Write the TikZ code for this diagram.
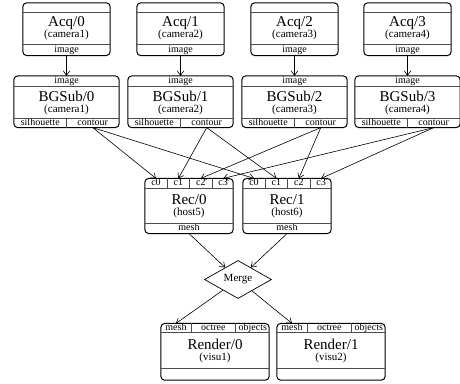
\documentclass[tikz,border=0pt]{standalone}
\usepackage{fontspec}
\setmainfont{Liberation Serif}
\usepackage{tikz}
\usetikzlibrary{calc,shapes.geometric,arrows.meta,backgrounds}
\newcommand{\compname}[1]{{\fontsize{15}{15}\selectfont #1}}
\tikzstyle{pipe}=[
  x=1pt, y=1pt, >={Straight Barb[length=4.5pt,width=6.5pt]}
]
\tikzstyle{core}=[
  inner sep=0pt, align=center, font=\fontsize{11}{11}\selectfont
]
\tikzstyle{slot}=[
  inner sep=0pt, text height=6.5pt, text depth=2pt, font=\fontsize{10}{10}\selectfont
]
\tikzstyle{frame}=[
  line width=1pt, rounded corners=4pt
]
\tikzstyle{divider}=[
  line width=0.9pt, black!70
]
\tikzstyle{conn}=[
  ->, line width=0.6pt
]
\tikzstyle{mergenode}=[
  draw, diamond, line width=0.7pt, inner sep=0pt, minimum width=67pt, minimum height=27pt,
  font=\fontsize{11}{11}\selectfont
]
\begin{document}
\begin{tikzpicture}[pipe]
\useasboundingbox (0,0) rectangle (460,-383);

% acquisition
\node (acq0) [core, minimum width=87pt, minimum height=31pt] at (66.5,-28.5) {\compname{Acq/0}\\(camera1)};
\node (acq1) [core, minimum width=87pt, minimum height=31pt] at ($(acq0) + (114,0)$) {\compname{Acq/1}\\(camera2)};
\node (acq2) [core, minimum width=87pt, minimum height=31pt] at ($(acq1) + (114,0)$) {\compname{Acq/2}\\(camera3)};
\node (acq3) [core, minimum width=87pt, minimum height=31pt] at ($(acq2) + (113,0)$) {\compname{Acq/3}\\(camera4)};
\node (acq0 image) [slot, minimum width=87pt, minimum height=11pt, anchor=north] at (acq0.south) {image};
\node (acq1 image) [slot, minimum width=87pt, minimum height=11pt, anchor=north] at (acq1.south) {image};
\node (acq2 image) [slot, minimum width=87pt, minimum height=11pt, anchor=north] at (acq2.south) {image};
\node (acq3 image) [slot, minimum width=87pt, minimum height=11pt, anchor=north] at (acq3.south) {image};

% background subtraction
\node (bg0) [core, minimum width=105pt, minimum height=32pt] at (66.5,-102.5) {\compname{BGSub/0}\\(camera1)};
\node (bg1) [core, minimum width=105pt, minimum height=32pt] at ($(bg0) + (114,0)$) {\compname{BGSub/1}\\(camera2)};
\node (bg2) [core, minimum width=105pt, minimum height=32pt] at ($(bg1) + (114,0)$) {\compname{BGSub/2}\\(camera3)};
\node (bg3) [core, minimum width=105pt, minimum height=32pt] at ($(bg2) + (113,0)$) {\compname{BGSub/3}\\(camera4)};
\node (bg0 image) [slot, minimum width=105pt, minimum height=10pt, anchor=south] at (bg0.north) {image};
\node (bg1 image) [slot, minimum width=105pt, minimum height=10pt, anchor=south] at (bg1.north) {image};
\node (bg2 image) [slot, minimum width=105pt, minimum height=10pt, anchor=south] at (bg2.north) {image};
\node (bg3 image) [slot, minimum width=105pt, minimum height=10pt, anchor=south] at (bg3.north) {image};
\node (bg0 sil) [slot, minimum width=52.5pt, minimum height=8.5pt, anchor=north west] at (bg0.south west) {silhouette};
\node (bg0 cont) [slot, minimum width=52.5pt, minimum height=8.5pt, anchor=north east] at (bg0.south east) {contour};
\node (bg1 sil) [slot, minimum width=52.5pt, minimum height=8.5pt, anchor=north west] at (bg1.south west) {silhouette};
\node (bg1 cont) [slot, minimum width=52.5pt, minimum height=8.5pt, anchor=north east] at (bg1.south east) {contour};
\node (bg2 sil) [slot, minimum width=52.5pt, minimum height=8.5pt, anchor=north west] at (bg2.south west) {silhouette};
\node (bg2 cont) [slot, minimum width=52.5pt, minimum height=8.5pt, anchor=north east] at (bg2.south east) {contour};
\node (bg3 sil) [slot, minimum width=52.5pt, minimum height=8.5pt, anchor=north west] at (bg3.south west) {silhouette};
\node (bg3 cont) [slot, minimum width=52.5pt, minimum height=8.5pt, anchor=north east] at (bg3.south east) {contour};

% reconstruction
\node (rec0) [core, minimum width=88pt, minimum height=34pt] at (189,-206) {\compname{Rec/0}\\(host5)};
\node (rec1) [core, minimum width=88pt, minimum height=34pt] at ($(rec0) + (98,0)$) {\compname{Rec/1}\\(host6)};
\node (rec0 c0) [slot, minimum width=22pt, minimum height=10pt, anchor=south west] at (rec0.north west) {c0};
\node (rec0 c1) [slot, minimum width=22pt, minimum height=10pt, anchor=west] at (rec0 c0.east) {c1};
\node (rec0 c2) [slot, minimum width=22pt, minimum height=10pt, anchor=west] at (rec0 c1.east) {c2};
\node (rec0 c3) [slot, minimum width=22pt, minimum height=10pt, anchor=west] at (rec0 c2.east) {c3};
\node (rec1 c0) [slot, minimum width=22pt, minimum height=10pt, anchor=south west] at (rec1.north west) {c0};
\node (rec1 c1) [slot, minimum width=22pt, minimum height=10pt, anchor=west] at (rec1 c0.east) {c1};
\node (rec1 c2) [slot, minimum width=22pt, minimum height=10pt, anchor=west] at (rec1 c1.east) {c2};
\node (rec1 c3) [slot, minimum width=22pt, minimum height=10pt, anchor=west] at (rec1 c2.east) {c3};
\node (rec0 mesh) [slot, minimum width=88pt, minimum height=10pt, anchor=north] at (rec0.south) {mesh};
\node (rec1 mesh) [slot, minimum width=88pt, minimum height=10pt, anchor=north] at (rec1.south) {mesh};

\node (merge) [mergenode] at (238,-279.5) {Merge};

% rendering
\node (ren0) [core, minimum width=108pt, minimum height=35pt] at (215,-350.5) {\compname{Render/0}\\(visu1)};
\node (ren1) [core, minimum width=108pt, minimum height=35pt] at ($(ren0) + (116,0)$) {\compname{Render/1}\\(visu2)};
\node (ren0 mesh) [slot, minimum width=30pt, minimum height=9pt, anchor=south west] at (ren0.north west) {mesh};
\node (ren0 octree) [slot, minimum width=44pt, minimum height=9pt, anchor=west] at (ren0 mesh.east) {octree};
\node (ren0 objects) [slot, minimum width=34pt, minimum height=9pt, anchor=west] at (ren0 octree.east) {objects};
\node (ren1 mesh) [slot, minimum width=30pt, minimum height=9pt, anchor=south west] at (ren1.north west) {mesh};
\node (ren1 octree) [slot, minimum width=44pt, minimum height=9pt, anchor=west] at (ren1 mesh.east) {octree};
\node (ren1 objects) [slot, minimum width=34pt, minimum height=9pt, anchor=west] at (ren1 octree.east) {objects};

% frames and slot dividers
\draw [frame] ($(acq0.north west) + (0,10)$) rectangle (acq0 image.south east);
\draw [frame] ($(acq1.north west) + (0,10)$) rectangle (acq1 image.south east);
\draw [frame] ($(acq2.north west) + (0,10)$) rectangle (acq2 image.south east);
\draw [frame] ($(acq3.north west) + (0,10)$) rectangle (acq3 image.south east);
\draw [divider] (acq0.north west) -- (acq0.north east) (acq0.south west) -- (acq0.south east);
\draw [divider] (acq1.north west) -- (acq1.north east) (acq1.south west) -- (acq1.south east);
\draw [divider] (acq2.north west) -- (acq2.north east) (acq2.south west) -- (acq2.south east);
\draw [divider] (acq3.north west) -- (acq3.north east) (acq3.south west) -- (acq3.south east);

\draw [frame] (bg0 image.north west) rectangle (bg0 cont.south east);
\draw [frame] (bg1 image.north west) rectangle (bg1 cont.south east);
\draw [frame] (bg2 image.north west) rectangle (bg2 cont.south east);
\draw [frame] (bg3 image.north west) rectangle (bg3 cont.south east);
\draw [divider] (bg0.north west) -- (bg0.north east) (bg0.south west) -- (bg0.south east) (bg0 sil.north east) -- (bg0 sil.south east);
\draw [divider] (bg1.north west) -- (bg1.north east) (bg1.south west) -- (bg1.south east) (bg1 sil.north east) -- (bg1 sil.south east);
\draw [divider] (bg2.north west) -- (bg2.north east) (bg2.south west) -- (bg2.south east) (bg2 sil.north east) -- (bg2 sil.south east);
\draw [divider] (bg3.north west) -- (bg3.north east) (bg3.south west) -- (bg3.south east) (bg3 sil.north east) -- (bg3 sil.south east);

\draw [frame] (rec0 c0.north west) rectangle (rec0 mesh.south east);
\draw [frame] (rec1 c0.north west) rectangle (rec1 mesh.south east);
\draw [divider] (rec0.north west) -- (rec0.north east) (rec0.south west) -- (rec0.south east)
    (rec0 c0.north east) -- (rec0 c0.south east) (rec0 c1.north east) -- (rec0 c1.south east)
    (rec0 c2.north east) -- (rec0 c2.south east);
\draw [divider] (rec1.north west) -- (rec1.north east) (rec1.south west) -- (rec1.south east)
    (rec1 c0.north east) -- (rec1 c0.south east) (rec1 c1.north east) -- (rec1 c1.south east)
    (rec1 c2.north east) -- (rec1 c2.south east);

\draw [frame] (ren0 mesh.north west) rectangle ($(ren0.south east) + (0,-12)$);
\draw [frame] (ren1 mesh.north west) rectangle ($(ren1.south east) + (0,-12)$);
\draw [divider] (ren0.north west) -- (ren0.north east) (ren0.south west) -- (ren0.south east)
    (ren0 mesh.north east) -- (ren0 mesh.south east) (ren0 octree.north east) -- (ren0 octree.south east);
\draw [divider] (ren1.north west) -- (ren1.north east) (ren1.south west) -- (ren1.south east)
    (ren1 mesh.north east) -- (ren1 mesh.south east) (ren1 octree.north east) -- (ren1 octree.south east);

\begin{scope}[on background layer]
\draw [conn] (acq0 image.south) -- (bg0 image.north);
\draw [conn] (acq1 image.south) -- (bg1 image.north);
\draw [conn] (acq2 image.south) -- (bg2 image.north);
\draw [conn] (acq3 image.south) -- (bg3 image.north);
\draw [conn] (bg0 cont.south) -- (rec0 c0.north);
\draw [conn] (bg0 cont.south) -- (rec1 c0.north);
\draw [conn] (bg1 cont.south) -- (rec0 c1.north);
\draw [conn] (bg1 cont.south) -- (rec1 c1.north);
\draw [conn] (bg2 cont.south) -- (rec0 c2.north);
\draw [conn] (bg2 cont.south) -- (rec1 c2.north);
\draw [conn] (bg3 cont.south) -- (rec0 c3.north);
\draw [conn] (bg3 cont.south) -- (rec1 c3.north);
\draw [conn] (rec0 mesh.south) -- (merge);
\draw [conn] (rec1 mesh.south) -- (merge);
\draw [conn] (merge) -- (ren0 mesh.north);
\draw [conn] (merge) -- (ren1 mesh.north);
\end{scope}
\end{tikzpicture}
\end{document}
